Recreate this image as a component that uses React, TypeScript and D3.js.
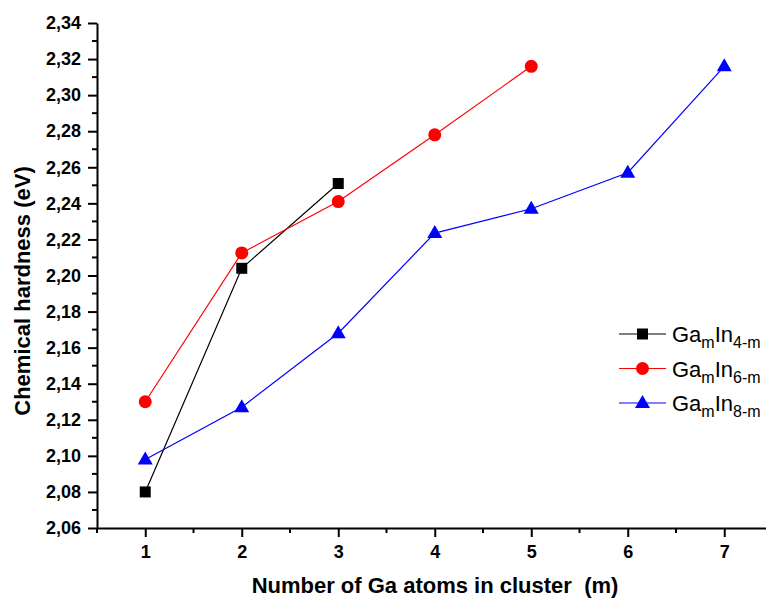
import React, { useEffect, useRef } from 'react';
import * as d3 from 'd3';

// data
const mValues = [1, 2, 3, 4, 5, 6, 7];
const ga4 = [2.080, 2.204, 2.251];
const ga6 = [2.130, 2.2125, 2.241, 2.278, 2.316];
const ga8 = [2.098, 2.127, 2.168, 2.2235, 2.237, 2.257, 2.316];
const seriesSubs = ['4-m', '6-m', '8-m'];
const seriesColors = ['#000000', '#ff0000', '#0000ff'];
const seriesShapes = ['square', 'circle', 'triangle'];
const yTicks = [2.06, 2.08, 2.10, 2.12, 2.14, 2.16, 2.18, 2.20, 2.22, 2.24, 2.26, 2.28, 2.30, 2.32, 2.34];
const xTicks = [1, 2, 3, 4, 5, 6, 7];

const W = 766;
const H = 599;
const FONT = "'Liberation Sans', Arial, sans-serif";

const App = () => {
  const svgRef = useRef<SVGSVGElement>(null);

  useEffect(() => {
    const svg = d3.select(svgRef.current);
    svg.selectAll('*').remove();

    const x = d3.scaleLinear().domain([0.5, 7.5]).range([97, 772.5]);
    const y = d3.scaleLinear().domain([2.06, 2.34]).range([528, 23]);
    const fmt = (v: number) => d3.format('.2f')(v).replace('.', ',');

    // Y axis
    const yAxis = svg.append('g').attr('transform', `translate(${x(0.5)},0)`)
      .call(d3.axisLeft(y).tickValues(yTicks).tickFormat(fmt as any).tickSize(9).tickPadding(7).tickSizeOuter(0));
    const yMinor = d3.range(2.07, 2.34, 0.02);
    svg.append('g').selectAll('line').data(yMinor).enter().append('line')
      .attr('x1', x(0.5) - 5).attr('x2', x(0.5))
      .attr('y1', d => y(d)).attr('y2', d => y(d))
      .attr('stroke', '#000').attr('stroke-width', 2);

    // X axis
    const xAxis = svg.append('g').attr('transform', `translate(0,${y(2.06)})`)
      .call(d3.axisBottom(x).tickValues(xTicks).tickFormat(d3.format('d') as any).tickSize(9).tickPadding(8).tickSizeOuter(0));
    const xMinor = d3.range(0.5, 7.6, 1);
    svg.append('g').selectAll('line').data(xMinor).enter().append('line')
      .attr('x1', d => x(d)).attr('x2', d => x(d))
      .attr('y1', y(2.06)).attr('y2', y(2.06) + 5)
      .attr('stroke', '#000').attr('stroke-width', 2);

    [yAxis, xAxis].forEach(a => {
      a.attr('font-size', 18).attr('font-family', FONT);
      a.select('.domain').attr('stroke', '#000').attr('stroke-width', 2);
      a.selectAll('.tick line').attr('stroke', '#000').attr('stroke-width', 2);
      a.selectAll('.tick text').attr('font-family', FONT).attr('font-weight', 'bold')
        .attr('font-size', 18).attr('fill', '#000');
    });

    // axis titles
    svg.append('text')
      .attr('x', 435).attr('y', 593)
      .attr('text-anchor', 'middle')
      .attr('font-family', FONT).attr('font-weight', 'bold').attr('font-size', 22)
      .style('white-space', 'pre')
      .text('Number of Ga atoms in cluster  (m)');
    svg.append('text')
      .attr('transform', 'translate(30,291) rotate(-90)')
      .attr('text-anchor', 'middle')
      .attr('font-family', FONT).attr('font-weight', 'bold').attr('font-size', 22)
      .text('Chemical hardness (eV)');

    const drawMarker = (g: any, shape: string, cx: number, cy: number, color: string) => {
      if (shape === 'square') {
        g.append('rect').attr('x', cx - 5.5).attr('y', cy - 5.5).attr('width', 11).attr('height', 11).attr('fill', color);
      } else if (shape === 'circle') {
        g.append('circle').attr('cx', cx).attr('cy', cy).attr('r', 6.5).attr('fill', color);
      } else {
        g.append('path').attr('d', `M${cx},${cy - 8}L${cx + 7.5},${cy + 5}L${cx - 7.5},${cy + 5}Z`).attr('fill', color);
      }
    };

    const allSeries = [ga4, ga6, ga8];
    allSeries.forEach((vals, i) => {
      const pts = vals.map((v, j) => [mValues[j], v] as [number, number]);
      const line = d3.line<[number, number]>().x(d => x(d[0])).y(d => y(d[1]));
      svg.append('path').datum(pts).attr('d', line)
        .attr('fill', 'none').attr('stroke', seriesColors[i]).attr('stroke-width', 1.2);
    });
    allSeries.forEach((vals, i) => {
      const g = svg.append('g');
      vals.forEach((v, j) => drawMarker(g, seriesShapes[i], x(mValues[j]), y(v), seriesColors[i]));
    });

    // legend
    const legendY = [334, 368.5, 403];
    seriesSubs.forEach((sub, i) => {
      const ly = legendY[i];
      const g = svg.append('g');
      g.append('line').attr('x1', 619).attr('x2', 666).attr('y1', ly).attr('y2', ly)
        .attr('stroke', seriesColors[i]).attr('stroke-width', 1.2);
      drawMarker(g, seriesShapes[i], 642.5, ly, seriesColors[i]);
      const t = g.append('text').attr('x', 672).attr('y', ly + 8)
        .attr('font-family', FONT).attr('font-size', 22).attr('fill', '#000');
      t.append('tspan').text('Ga');
      t.append('tspan').attr('font-size', 16).attr('dy', 6).text('m');
      t.append('tspan').attr('dy', -6).text('In');
      t.append('tspan').attr('font-size', 16).attr('dy', 6).text(sub);
    });
  }, []);

  return (
    <svg ref={svgRef} width={W} height={H}
      style={{ position: 'absolute', left: 0, top: 0, background: '#fff' }} />
  );
};

export default App;
